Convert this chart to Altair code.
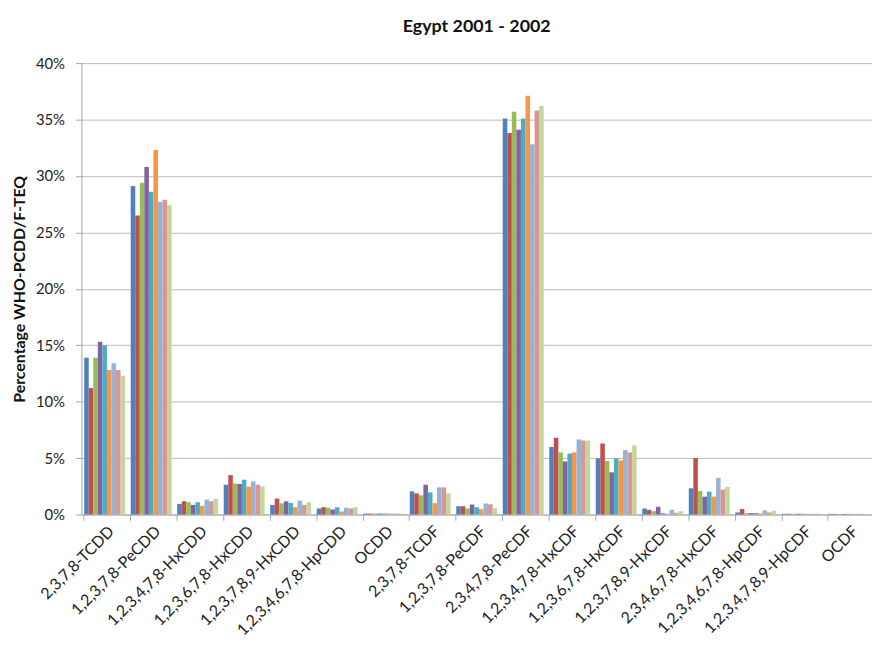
import altair as alt
import pandas as pd

categories = ["2,3,7,8-TCDD", "1,2,3,7,8-PeCDD", "1,2,3,4,7,8-HxCDD", "1,2,3,6,7,8-HxCDD",
              "1,2,3,7,8,9-HxCDD", "1,2,3,4,6,7,8-HpCDD", "OCDD", "2,3,7,8-TCDF",
              "1,2,3,7,8-PeCDF", "2,3,4,7,8-PeCDF", "1,2,3,4,7,8-HxCDF", "1,2,3,6,7,8-HxCDF",
              "1,2,3,7,8,9-HxCDF", "2,3,4,6,7,8-HxCDF", "1,2,3,4,6,7,8-HpCDF",
              "1,2,3,4,7,8,9-HpCDF", "OCDF"]

series = ["S1", "S2", "S3", "S4", "S5", "S6", "S7", "S8", "S9"]
colors = ["#4F81BD", "#C0504D", "#9BBB59", "#8064A2", "#4BACC6", "#F79646",
          "#95B3D7", "#D99694", "#C3D69B"]

s1 = [13.9, 29.1, 0.94, 2.64, 0.85, 0.53, 0.08, 2.05, 0.73, 35.1, 5.98, 4.97, 0.53, 2.32, 0.18, 0.06, 0.05]
s2 = [11.2, 26.5, 1.17, 3.49, 1.41, 0.64, 0.08, 1.87, 0.73, 33.8, 6.80, 6.29, 0.41, 5.00, 0.48, 0.06, 0.05]
s3 = [13.9, 29.4, 1.08, 2.75, 0.99, 0.60, 0.08, 1.70, 0.53, 35.7, 5.50, 4.74, 0.29, 2.08, 0.12, 0.06, 0.05]
s4 = [15.3, 30.8, 0.85, 2.70, 1.17, 0.44, 0.08, 2.64, 0.88, 34.1, 4.70, 3.74, 0.68, 1.58, 0.12, 0.06, 0.05]
s5 = [15.0, 28.6, 1.08, 3.08, 1.02, 0.64, 0.08, 1.96, 0.64, 35.1, 5.40, 4.97, 0.12, 2.02, 0.12, 0.06, 0.05]
s6 = [12.8, 32.3, 0.76, 2.46, 0.64, 0.26, 0.08, 1.00, 0.47, 37.1, 5.50, 4.79, 0.06, 1.58, 0.09, 0.06, 0.05]
s7 = [13.4, 27.7, 1.32, 2.93, 1.23, 0.60, 0.08, 2.40, 0.97, 32.8, 6.65, 5.70, 0.41, 3.24, 0.36, 0.06, 0.05]
s8 = [12.8, 27.9, 1.17, 2.64, 0.85, 0.53, 0.08, 2.40, 0.90, 35.8, 6.56, 5.50, 0.15, 2.20, 0.18, 0.06, 0.05]
s9 = [12.3, 27.4, 1.38, 2.49, 1.08, 0.64, 0.08, 1.87, 0.55, 36.2, 6.56, 6.12, 0.29, 2.44, 0.33, 0.06, 0.05]

y_ticks = [0, 5, 10, 15, 20, 25, 30, 35, 40]

rows = []
for name, vals in zip(series, [s1, s2, s3, s4, s5, s6, s7, s8, s9]):
    for cat, v in zip(categories, vals):
        rows.append({"category": cat, "series": name, "value": v})
df = pd.DataFrame(rows)

FONT = "Lato"
AXIS_GRAY = "#A6A6A6"

x_scale = alt.Scale(paddingInner=0.12, paddingOuter=0.06)
y_axis = alt.Axis(title="Percentage WHO-PCDD/F-TEQ", values=y_ticks,
                  labelExpr="datum.value + '%'", labelFontSize=15, labelFont=FONT,
                  labelColor="#222222", titleFont=FONT, titleFontSize=16,
                  titleFontWeight="bold", titleColor="#111111", titlePadding=8,
                  grid=True, gridColor="#BBBBBB", domainColor=AXIS_GRAY,
                  tickColor=AXIS_GRAY, tickSize=6, labelPadding=11)
y_enc = alt.Y("value:Q", scale=alt.Scale(domain=[0, 40], nice=False), axis=y_axis)

base = alt.Chart(df)

bars = base.mark_bar().encode(
    x=alt.X("category:N", sort=categories, scale=x_scale,
            axis=alt.Axis(title=None, orient="bottom", labelAngle=-45, labelAlign="right",
                          labelBaseline="middle", labelFontSize=16, labelFont=FONT,
                          labelColor="#222222", ticks=False, domainColor=AXIS_GRAY,
                          labelPadding=14, labelOffset=7, labelLimit=250, grid=False)),
    xOffset=alt.XOffset("series:N", sort=series,
                        scale=alt.Scale(paddingInner=0, paddingOuter=0)),
    y=y_enc,
    color=alt.Color("series:N", scale=alt.Scale(domain=series, range=colors), legend=None),
)

ticks_layer = base.mark_bar(opacity=0).encode(
    x=alt.X("category:N", sort=categories, scale=x_scale,
            axis=alt.Axis(title=None, orient="bottom", labels=False, domain=False,
                          ticks=True, tickSize=6, tickColor=AXIS_GRAY, bandPosition=0,
                          grid=False)),
    xOffset=alt.XOffset("series:N", sort=series),
    y=y_enc,
)

chart = alt.layer(bars, ticks_layer).resolve_axis(x="independent").properties(
    width=797,
    height=455,
    padding={"left": 74, "top": 53, "right": 0, "bottom": 128},
    autosize=alt.AutoSizeParams(type="none"),
    title=alt.TitleParams("Egypt 2001 - 2002", font=FONT, fontSize=18, fontWeight="bold",
                          color="#111111", anchor="middle", offset=20),
).configure_view(stroke=None)

chart.save("out.html", embed_options={"renderer": "svg", "actions": False})
